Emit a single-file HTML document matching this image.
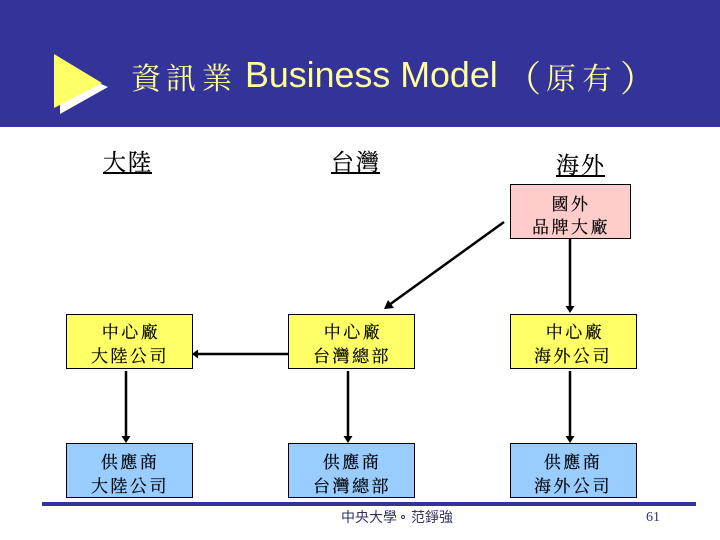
<!DOCTYPE html>
<html>
<head>
<meta charset="utf-8">
<style>
html,body{margin:0;padding:0;background:#fff;width:720px;height:540px;overflow:hidden}
svg{display:block}
.cj{font-family:"Noto Serif CJK TC","Noto Serif CJK SC",serif}
.b{font-size:17px;letter-spacing:2.5px;text-anchor:middle;fill:#000;stroke:#000;stroke-width:.2}
.h{font-size:23px;letter-spacing:2px;text-anchor:middle;fill:#000;stroke:#000;stroke-width:.2}
.t{font-size:30px;fill:#ffff99}
.p{font-size:36px;fill:#ffff99}
</style>
</head>
<body>
<svg width="720" height="540" viewBox="0 0 720 540" xmlns="http://www.w3.org/2000/svg">
<rect x="0" y="0" width="720" height="127" fill="#333399"/>
<polygon points="60,66 108,87 60,114" fill="#ffffff"/>
<polygon points="54,54 102,83 54,108" fill="#ffff66"/>
<g class="cj t">
<text x="131" y="89">資</text><text x="166" y="89">訊</text><text x="202" y="89">業</text>
<text x="546" y="89">原</text><text x="582" y="89">有</text>
</g>
<g class="cj p">
<text x="505" y="91">（</text><text x="620" y="91">）</text>
</g>
<text x="245" y="87" font-family="'Liberation Sans',sans-serif" font-size="35.8" fill="#ffff99">Business Model</text>

<g class="cj h">
<text x="128" y="170">大陸</text><rect x="103" y="172" width="49" height="2" fill="#000" stroke="none"/>
<text x="356" y="170">台灣</text><rect x="331" y="172" width="49" height="2" fill="#000" stroke="none"/>
<text x="581" y="173">海外</text><rect x="556" y="175" width="49" height="2" fill="#000" stroke="none"/>
</g>

<g stroke="#000" stroke-width="1">
<rect x="510.5" y="184.5" width="120" height="54" fill="#ffcccc"/>
<rect x="66.5" y="314.5" width="126" height="54" fill="#ffff66"/>
<rect x="288.5" y="314.5" width="126" height="54" fill="#ffff66"/>
<rect x="510.5" y="314.5" width="126" height="54" fill="#ffff66"/>
<rect x="66.5" y="443.5" width="126" height="54" fill="#99ccff"/>
<rect x="288.5" y="443.5" width="126" height="54" fill="#99ccff"/>
<rect x="510.5" y="443.5" width="126" height="54" fill="#99ccff"/>
</g>

<g stroke="#000" stroke-width="2.5" fill="none">
<line x1="504" y1="222" x2="389" y2="305"/>
<line x1="570" y1="239" x2="570" y2="307"/>
<line x1="570" y1="371" x2="570" y2="437"/>
<line x1="126" y1="371" x2="126" y2="437"/>
<line x1="348" y1="371" x2="348" y2="437"/>
<line x1="288" y1="354" x2="198" y2="354"/>
</g>
<g fill="#000">
<polygon points="384,309 388,300 394,308"/>
<polygon points="565.5,306 574.5,306 570,313"/>
<polygon points="565.5,436 574.5,436 570,443"/>
<polygon points="121.5,436 130.5,436 126,443"/>
<polygon points="343.5,436 352.5,436 348,443"/>
<polygon points="198,349.500 198,358.500 192,354"/>
</g>

<g class="cj b">
<text x="571" y="210">國外</text><text x="571" y="233">品牌大廠</text>
<text x="131" y="338">中心廠</text><text x="130" y="362">大陸公司</text>
<text x="353" y="338">中心廠</text><text x="352" y="362">台灣總部</text>
<text x="575" y="338">中心廠</text><text x="573" y="362">海外公司</text>
<text x="130" y="468">供應商</text><text x="130" y="492">大陸公司</text>
<text x="352" y="468">供應商</text><text x="352" y="492">台灣總部</text>
<text x="573" y="468">供應商</text><text x="573" y="492">海外公司</text>
</g>

<rect x="42" y="502" width="654" height="4" fill="#333399"/>
<g font-size="14" fill="#333366" font-family="'Noto Sans CJK TC',sans-serif">
<text x="341" y="522">中央大學</text>
<circle cx="403" cy="517" r="1.5" fill="none" stroke="#333366" stroke-width="1"/>
<text x="411" y="522">范錚強</text>
</g>
<text x="646" y="521" font-size="14" fill="#333366" font-family="'Liberation Serif',serif">61</text>
</svg>
</body>
</html>
